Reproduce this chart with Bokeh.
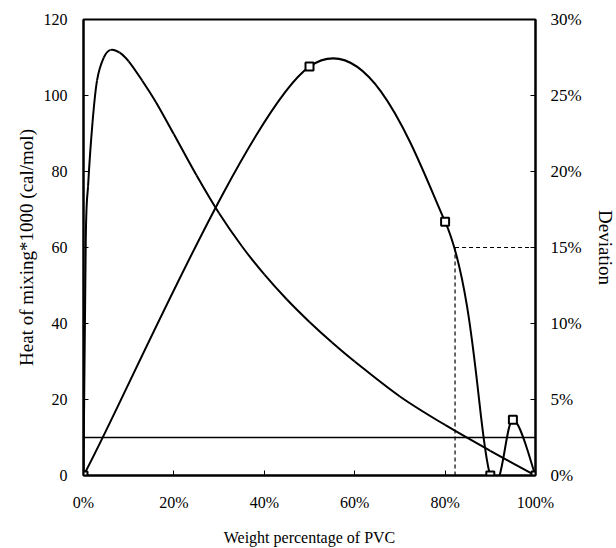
from bokeh.plotting import figure
from bokeh.models import Range1d, LinearAxis, FixedTicker
from bokeh.embed import file_html
from bokeh.resources import INLINE

# ---- data ----
pvc_pct = [0, 0.5, 1, 2, 3, 4.5, 6, 8, 10, 13, 16, 20, 25, 30, 35, 40, 45, 50, 55, 60, 70, 80, 90, 100]
heat_mixing = [0, 62, 76, 93, 104, 110, 112, 111.3, 109, 103.9, 98.3, 89.8, 79, 69, 60.4, 52.9,
               46.3, 40.4, 35.0, 30.0, 20.8, 13.3, 6.5, 0]

dev_pvc_pct = [0, 50, 80, 90, 95, 100]
deviation_pct = [0, 26.9, 16.7, 0, 3.66, 0]

threshold_x = [0, 100]
threshold_heat = [10, 10]

cutoff_pvc = 82.2
cutoff_dev = 15
dev_axis_max = 30

x_ticks = [0, 20, 40, 60, 80, 100]
x_tick_labels = ["0%", "20%", "40%", "60%", "80%", "100%"]
left_ticks = [0, 20, 40, 60, 80, 100, 120]
right_ticks = [0, 5, 10, 15, 20, 25, 30]
right_tick_labels = ["0%", "5%", "10%", "15%", "20%", "25%", "30%"]

FONT = "Liberation Serif"


def catmull_segments(xs, ys):
    """Bezier controls of a Catmull-Rom ('smoothed line') curve through the points."""
    n = len(xs)
    out = {k: [] for k in ("x0", "y0", "x1", "y1", "cx0", "cy0", "cx1", "cy1")}
    for i in range(n - 1):
        im = max(i - 1, 0)
        ip = min(i + 2, n - 1)
        out["x0"].append(xs[i]); out["y0"].append(ys[i])
        out["x1"].append(xs[i + 1]); out["y1"].append(ys[i + 1])
        out["cx0"].append(xs[i] + (xs[i + 1] - xs[im]) / 6.0)
        out["cy0"].append(ys[i] + (ys[i + 1] - ys[im]) / 6.0)
        out["cx1"].append(xs[i + 1] - (xs[ip] - xs[i]) / 6.0)
        out["cy1"].append(ys[i + 1] - (ys[ip] - ys[i]) / 6.0)
    return out


def hermite_segments(xs, ys):
    """Bezier controls of a cubic Hermite curve y(x) through the points."""
    n = len(xs)
    m = []
    for i in range(n):
        im = max(i - 1, 0)
        ip = min(i + 1, n - 1)
        m.append((ys[ip] - ys[im]) / (xs[ip] - xs[im]))
    out = {k: [] for k in ("x0", "y0", "x1", "y1", "cx0", "cy0", "cx1", "cy1")}
    for i in range(n - 1):
        h = xs[i + 1] - xs[i]
        out["x0"].append(xs[i]); out["y0"].append(ys[i])
        out["x1"].append(xs[i + 1]); out["y1"].append(ys[i + 1])
        out["cx0"].append(xs[i] + h / 3.0)
        out["cy0"].append(ys[i] + m[i] * h / 3.0)
        out["cx1"].append(xs[i + 1] - h / 3.0)
        out["cy1"].append(ys[i + 1] - m[i + 1] * h / 3.0)
    return out


p = figure(frame_width=452, frame_height=456, x_range=Range1d(0, 100), y_range=Range1d(0, 120),
           output_backend="svg", toolbar_location=None,
           min_border_left=83, min_border_right=10, min_border_top=19, min_border_bottom=10)
p.extra_y_ranges = {"dev": Range1d(0, dev_axis_max)}

p.xgrid.visible = False
p.ygrid.visible = False
p.outline_line_color = "black"
p.outline_line_width = 2
p.background_fill_color = "white"
p.border_fill_color = "white"

# heat of mixing curve
hs = hermite_segments(pvc_pct, heat_mixing)
p.bezier(line_color="black", line_width=2, **hs)

# deviation curve (right axis)
ds = catmull_segments(dev_pvc_pct, deviation_pct)
p.bezier(line_color="black", line_width=2, y_range_name="dev", **ds)
p.scatter(dev_pvc_pct, deviation_pct, marker="square", size=8, fill_color="white",
          line_color="black", line_width=2, y_range_name="dev")

# threshold line
p.line(threshold_x, threshold_heat, line_color="black", line_width=1.5)

# dashed cut-off lines
p.line([cutoff_pvc, cutoff_pvc], [0, cutoff_dev], line_color="black", line_width=1.2,
       line_dash="4 3", y_range_name="dev")
p.line([cutoff_pvc, 100], [cutoff_dev, cutoff_dev], line_color="black", line_width=1.2,
       line_dash="4 3", y_range_name="dev")

# right axis
ra = LinearAxis(y_range_name="dev")
p.add_layout(ra, "right")

for ax in [p.xaxis[0], p.yaxis[0], ra]:
    ax.axis_line_color = "black"
    ax.axis_line_width = 2
    ax.major_tick_in = 5
    ax.major_tick_out = 0
    ax.major_tick_line_color = "black"
    ax.minor_tick_line_color = None
    ax.major_label_text_font = FONT
    ax.major_label_text_font_size = "16px"
    ax.major_label_text_color = "black"
    ax.axis_label_text_font = FONT
    ax.axis_label_text_font_style = "normal"
    ax.axis_label_text_color = "black"

xa = p.xaxis[0]
xa.ticker = FixedTicker(ticks=x_ticks)
xa.major_label_overrides = {t: l for t, l in zip(x_ticks, x_tick_labels)}
xa.major_label_standoff = 18
xa.axis_label = "Weight percentage of PVC"
xa.axis_label_text_font_size = "16px"
xa.axis_label_standoff = 15

ya = p.yaxis[0]
ya.ticker = FixedTicker(ticks=left_ticks)
ya.major_label_standoff = 16
ya.axis_label = "Heat of mixing*1000 (cal/mol)"
ya.axis_label_text_font_size = "19px"
ya.axis_label_standoff = 4

ra.ticker = FixedTicker(ticks=right_ticks)
ra.major_label_overrides = {t: l for t, l in zip(right_ticks, right_tick_labels)}
ra.major_label_standoff = 15
ra.major_label_text_font_size = "17px"
ra.axis_label = "Deviation"
ra.axis_label_text_font_size = "19px"
ra.axis_label_standoff = 10

open("out.html", "w").write(file_html(p, INLINE))
